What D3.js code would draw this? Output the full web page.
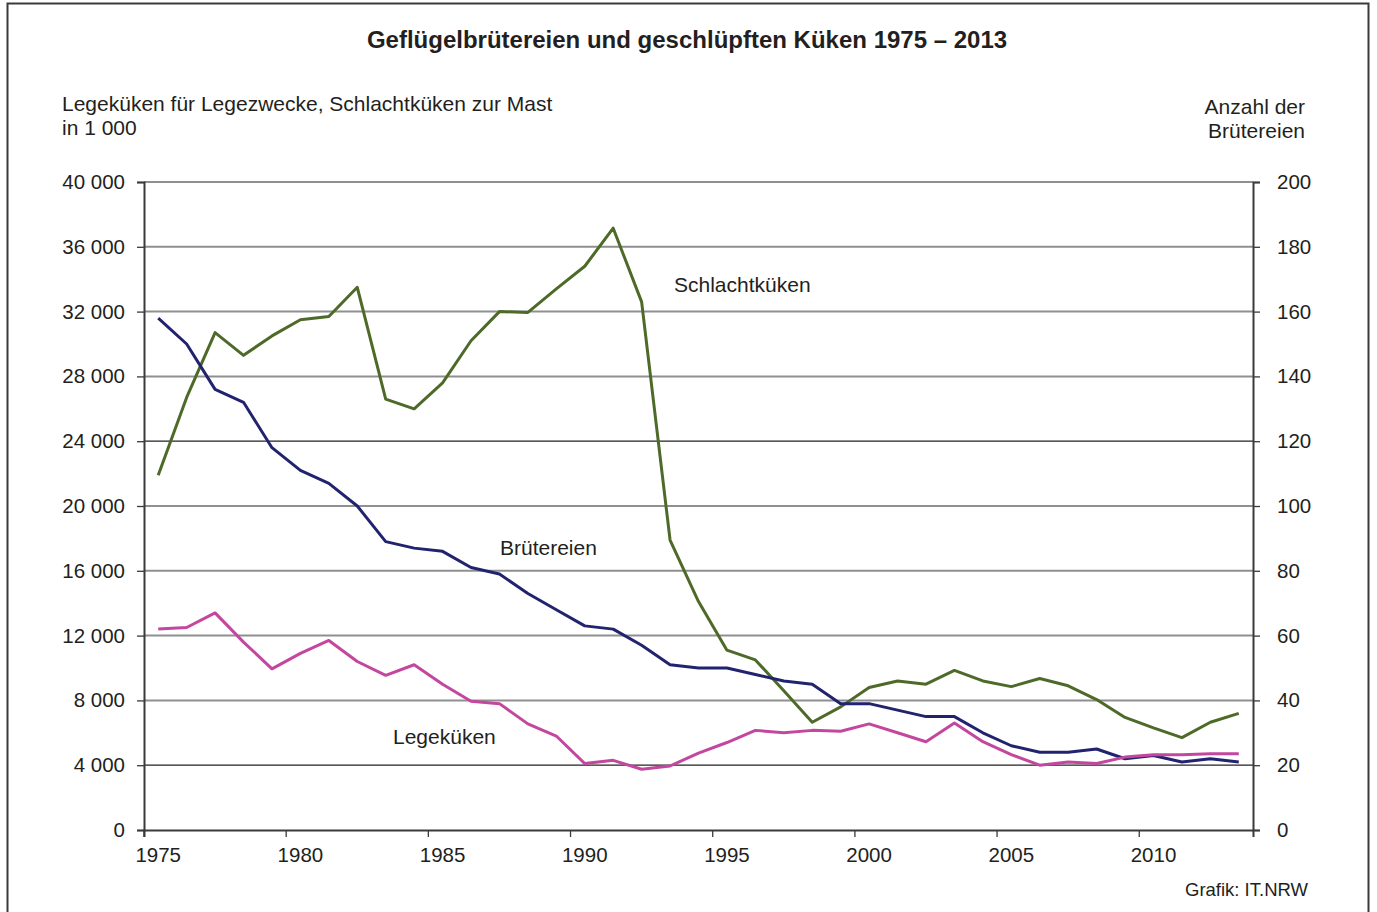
<!DOCTYPE html>
<html>
<head>
<meta charset="utf-8">
<script src="https://cdn.jsdelivr.net/npm/d3@7"></script>
<style>
  body { margin: 0; background: #fff; }
  text { font-family: "Liberation Sans", Arial, sans-serif; fill: #231f20; }
</style>
</head>
<body>
<script>
// data
var years = [];
for (var y = 1975; y <= 2013; y++) { years.push(y); }

var schlachtkueken = [21900, 26700, 30700, 29300, 30500, 31500, 31700, 33500, 26600, 26000,
  27600, 30200, 32000, 31950, 33400, 34800, 37150, 32600, 17900, 14100,
  11100, 10500, 8600, 6650, 7600, 8800, 9200, 9000, 9850, 9200,
  8850, 9350, 8900, 8050, 6950, 6300, 5700, 6650, 7200];

var legekueken = [12400, 12500, 13400, 11600, 9950, 10900, 11700, 10400, 9550, 10200,
  9000, 7950, 7800, 6550, 5800, 4100, 4300, 3750, 3950, 4750,
  5400, 6150, 6000, 6150, 6100, 6550, 6000, 5450, 6600, 5450,
  4650, 4000, 4200, 4100, 4500, 4650, 4650, 4700, 4700];

var bruetereien = [158, 150, 136, 132, 118, 111, 107, 100, 89, 87,
  86, 81, 79, 73, 68, 63, 62, 57, 51, 50,
  50, 48, 46, 45, 39, 39, 37, 35, 35, 30,
  26, 24, 24, 25, 22, 23, 21, 22, 21];

var leftTicks = [0, 4000, 8000, 12000, 16000, 20000, 24000, 28000, 32000, 36000, 40000];
var rightTicks = [0, 20, 40, 60, 80, 100, 120, 140, 160, 180, 200];
var yearTicks = [1975, 1980, 1985, 1990, 1995, 2000, 2005, 2010];

var x0 = 144, x1 = 1253, yTop = 182, yBot = 830;

var svg = d3.select('body').append('svg')
  .attr('width', 1377)
  .attr('height', 912);

// outer frame
svg.append('rect')
  .attr('x', 7.5).attr('y', 3.5)
  .attr('width', 1361).attr('height', 930)
  .attr('fill', 'none')
  .attr('stroke', '#3a3a3a')
  .attr('stroke-width', 2);

var x = d3.scaleBand().domain(years).range([x0, x1]);
var yL = d3.scaleLinear().domain([0, 40000]).range([yBot, yTop]);
var yR = d3.scaleLinear().domain([0, 200]).range([yBot, yTop]);

function fmt(v) { return d3.format(',')(v).replace(/,/g, ' '); }

// gridlines
svg.append('g').selectAll('line')
  .data(leftTicks.filter(function(d) { return d > 0; }))
  .enter().append('line')
  .attr('x1', x0).attr('x2', x1)
  .attr('y1', function(d) { return yL(d); })
  .attr('y2', function(d) { return yL(d); })
  .attr('stroke', function(d) { return (d == 4000 || d == 20000 || d == 24000) ? '#222' : '#8f8f8f'; })
  .attr('stroke-width', function(d) { return (d == 4000 || d == 20000 || d == 24000) ? 1.2 : 2; });

// left axis
var leftAxis = svg.append('g')
  .attr('transform', 'translate(' + x0 + ',0)')
  .call(d3.axisLeft(yL).tickValues(leftTicks).tickSize(7).tickPadding(12).tickFormat(fmt));

// right axis
var rightAxis = svg.append('g')
  .attr('transform', 'translate(' + x1 + ',0)')
  .call(d3.axisRight(yR).tickValues(rightTicks).tickSize(7).tickPadding(17));

// bottom axis - ticks at band edges, labels at band centers
var bottomAxis = svg.append('g')
  .attr('transform', 'translate(0,' + yBot + ')')
  .call(d3.axisBottom(x).tickValues(yearTicks).tickSize(7).tickPadding(10));
bottomAxis.selectAll('.tick line')
  .attr('x1', -x.bandwidth() / 2).attr('x2', -x.bandwidth() / 2);

[leftAxis, rightAxis, bottomAxis].forEach(function(a) {
  a.select('.domain').attr('stroke', '#3a3a3a').attr('stroke-width', 2);
  a.selectAll('.tick line').attr('stroke', '#3a3a3a').attr('stroke-width', 1.3);
  a.selectAll('text').style('font-size', '20.5px')
    .style('font-family', '"Liberation Sans", Arial, sans-serif').attr('fill', '#231f20');
});

// lines
function cx(d, i) { return x(years[i]) + x.bandwidth() / 2; }
var lineL = d3.line().x(cx).y(function(d) { return yL(d); });
var lineR = d3.line().x(cx).y(function(d) { return yR(d); });

svg.append('path').datum(schlachtkueken)
  .attr('d', lineL).attr('fill', 'none')
  .attr('stroke', '#4e6a29').attr('stroke-width', 3).attr('stroke-linejoin', 'round');
svg.append('path').datum(bruetereien)
  .attr('d', lineR).attr('fill', 'none')
  .attr('stroke', '#22236f').attr('stroke-width', 3).attr('stroke-linejoin', 'round');
svg.append('path').datum(legekueken)
  .attr('d', lineL).attr('fill', 'none')
  .attr('stroke', '#c4479f').attr('stroke-width', 3).attr('stroke-linejoin', 'round');

// titles and labels
svg.append('text')
  .attr('x', 687).attr('y', 48)
  .attr('text-anchor', 'middle')
  .style('font-size', '24px').style('font-weight', 'bold')
  .text('Geflügelbrütereien und geschlüpften Küken 1975 – 2013');

svg.append('text').attr('x', 62).attr('y', 111).style('font-size', '21px')
  .text('Legeküken für Legezwecke, Schlachtküken zur Mast');
svg.append('text').attr('x', 62).attr('y', 135).style('font-size', '21px')
  .text('in 1 000');

svg.append('text').attr('x', 1305).attr('y', 114).attr('text-anchor', 'end').style('font-size', '21px')
  .text('Anzahl der');
svg.append('text').attr('x', 1305).attr('y', 138).attr('text-anchor', 'end').style('font-size', '21px')
  .text('Brütereien');

svg.append('text').attr('x', 674).attr('y', 292).style('font-size', '21px').text('Schlachtküken');
svg.append('text').attr('x', 500).attr('y', 555).style('font-size', '21px').text('Brütereien');
svg.append('text').attr('x', 393).attr('y', 744).style('font-size', '21px').text('Legeküken');

svg.append('text').attr('x', 1308).attr('y', 896).attr('text-anchor', 'end').style('font-size', '18.5px')
  .text('Grafik: IT.NRW');
</script>
</body>
</html>
